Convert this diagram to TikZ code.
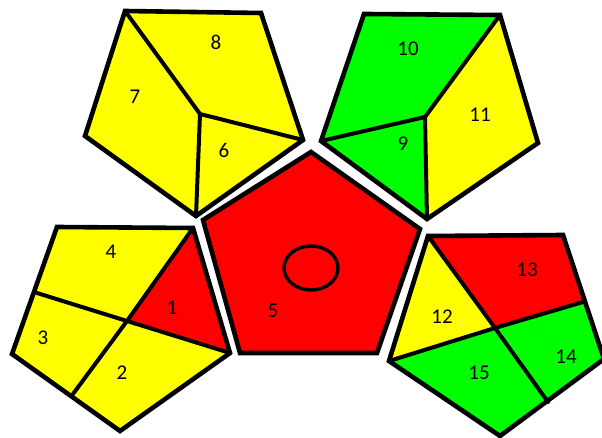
\documentclass[tikz,border=0pt]{standalone}
\usepackage{fontspec}
\setmainfont{Carlito}
\definecolor{cellred}{RGB}{255,0,0}
\definecolor{cellyellow}{RGB}{255,255,0}
\definecolor{cellgreen}{RGB}{0,255,0}
\tikzset{
  rim/.style={draw=black,line width=4.6pt,line join=miter},
  seam/.style={draw=black,line width=4pt,line cap=round},
  lab/.style={font=\fontsize{21}{25}\selectfont,inner sep=0pt}
}

\begin{document}
\begin{tikzpicture}[x=1pt,y=-1pt]
  \useasboundingbox (0,0) rectangle (602,438);
  % Top-left face: 6, 7, 8
  \coordinate (tlA) at (125,11);  \coordinate (tlB) at (261,13);
  \coordinate (tlC) at (303,140); \coordinate (tlD) at (196,216);
  \coordinate (tlE) at (85,136);  \coordinate (tlO) at (200,114);
  \fill[cellyellow] (tlA)--(tlB)--(tlC)--(tlD)--(tlE)--cycle;
  \draw[seam] (tlA)--(tlO)--(tlC) (tlO)--(tlD);
  \draw[rim] (tlA)--(tlB)--(tlC)--(tlD)--(tlE)--cycle;
  \node[lab] (l8) at (216,42)  {8};
  \node[lab] (l7) at (135,97)  {7};
  \node[lab] (l6) at (224,150) {6};
  % Top-right face: 9, 10, 11
  \coordinate (trA) at (364,14);  \coordinate (trB) at (500,15);
  \coordinate (trC) at (538,143); \coordinate (trD) at (427,219);
  \coordinate (trE) at (321,141); \coordinate (trO) at (425,117);
  \fill[cellgreen] (trA)--(trB)--(trO)--(trE)--cycle;
  \fill[cellgreen] (trE)--(trO)--(trD)--cycle;
  \fill[cellyellow] (trB)--(trC)--(trD)--(trO)--cycle;
  \draw[seam] (trB)--(trO)--(trE) (trO)--(trD);
  \draw[rim] (trA)--(trB)--(trC)--(trD)--(trE)--cycle;
  \node[lab] (l10) at (408,49)  {10};
  \node[lab] (l11) at (480,115) {11};
  \node[lab] (l9)  at (403,144) {9};
  % Bottom-left face: 1, 2, 3, 4
  \coordinate (blA) at (57,227);  \coordinate (blB) at (193,228);
  \coordinate (blC) at (230,353); \coordinate (blD) at (120,431);
  \coordinate (blE) at (12,354);  \coordinate (blO) at (127,321);
  \coordinate (blP) at (37,293);  \coordinate (blQ) at (73,394);
  \fill[cellyellow] (blA)--(blB)--(blC)--(blD)--(blE)--cycle;
  \fill[cellred] (blB)--(blC)--(blO)--cycle;
  \draw[seam] (blB)--(blO)--(blQ) (blP)--(blO)--(blC);
  \draw[rim] (blA)--(blB)--(blC)--(blD)--(blE)--cycle;
  \node[lab] (l4) at (111,252) {4};
  \node[lab] (l1) at (172,308) {1};
  \node[lab] (l3) at (43,338)  {3};
  \node[lab] (l2) at (122,373) {2};
  % Centre face: 5
  \coordinate (cA) at (311,152); \coordinate (cB) at (420,229);
  \coordinate (cC) at (377,353); \coordinate (cD) at (240,353);
  \coordinate (cE) at (203,220);
  \fill[cellred] (cA)--(cB)--(cC)--(cD)--(cE)--cycle;
  \draw[rim] (cA)--(cB)--(cC)--(cD)--(cE)--cycle;
  \draw[black,line width=3.4pt] (311,268) ellipse[x radius=27,y radius=22];
  \node[lab] (l5) at (273,311) {5};
  % Bottom-right face: 12, 13, 14, 15
  \coordinate (brA) at (428,236); \coordinate (brB) at (563,235);
  \coordinate (brC) at (604,359); \coordinate (brD) at (500,436);
  \coordinate (brE) at (389,361); \coordinate (brO) at (495,328);
  \coordinate (brP) at (583,302); \coordinate (brQ) at (548,402);
  \fill[cellgreen] (brA)--(brB)--(brC)--(brD)--(brE)--cycle;
  \fill[cellyellow] (brA)--(brO)--(brE)--cycle;
  \fill[cellred] (brA)--(brB)--(brP)--(brO)--cycle;
  \draw[seam] (brA)--(brO)--(brQ) (brE)--(brO)--(brP);
  \draw[rim] (brA)--(brB)--(brC)--(brD)--(brE)--cycle;
  \node[lab] (l13) at (527,270) {13};
  \node[lab] (l12) at (442,317) {12};
  \node[lab] (l14) at (566,357) {14};
  \node[lab] (l15) at (479,373) {15};
\end{tikzpicture}
\end{document}
